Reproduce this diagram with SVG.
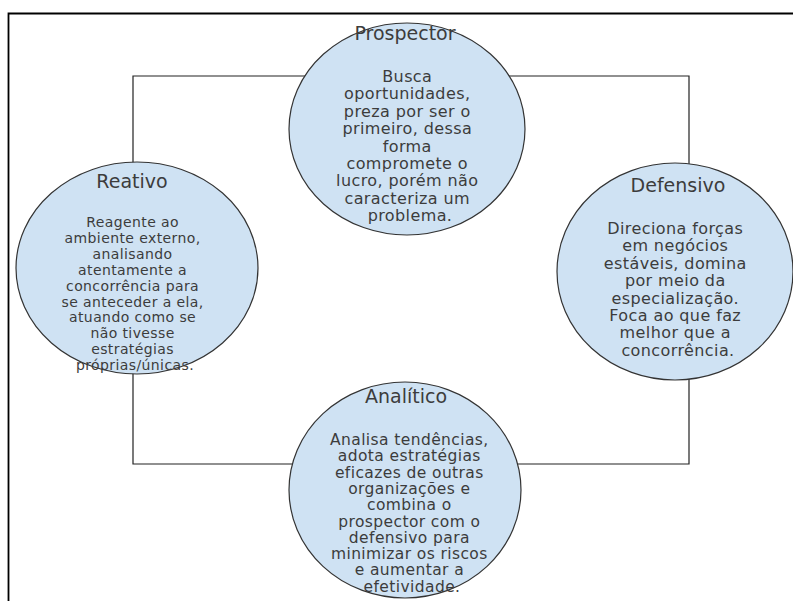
<svg xmlns="http://www.w3.org/2000/svg" width="793" height="601" viewBox="0 0 793 601">
<style>
.frame{fill:none;stroke:#000;stroke-width:1.8}
.conn{fill:none;stroke:#222;stroke-width:1.2}
.node{fill:#cfe2f3;stroke:#333;stroke-width:1.2}
text{font-family:"DejaVu Sans","Noto Sans",sans-serif;fill:#3c3c3c;text-anchor:middle}
.title{font-size:19px}
.body{letter-spacing:0.4px}
</style>
<rect width="793" height="601" fill="#fff"/>
<path class="frame" d="M8.5,601 V13.5 H793"/>
<g id="connectors">
<path class="conn" d="M310,76 H133 V165"/>
<path class="conn" d="M505,76 H689 V165"/>
<path class="conn" d="M133,372 V464 H295"/>
<path class="conn" d="M516,464 H689 V378"/>
</g>
<g id="prospector">
<ellipse class="node" cx="407" cy="129" rx="118" ry="106"/>
<text class="title" x="405" y="40">Prospector</text>
<text class="body" font-size="16" x="410">
<tspan x="410" y="82">Busca</tspan>
<tspan x="410" y="99.4">oportunidades,</tspan>
<tspan x="410" y="116.8">preza por ser o</tspan>
<tspan x="410" y="134.2">primeiro, dessa</tspan>
<tspan x="410" y="151.6">forma</tspan>
<tspan x="410" y="169">compromete o</tspan>
<tspan x="410" y="186.4">lucro, porém não</tspan>
<tspan x="410" y="203.8">caracteriza um</tspan>
<tspan x="410" y="221.2">problema.</tspan>
</text>
</g>
<g id="reativo">
<ellipse class="node" cx="137" cy="268" rx="121" ry="106"/>
<text class="title" x="132" y="188">Reativo</text>
<text class="body" font-size="14" x="135">
<tspan x="135" y="227">Reagente ao</tspan>
<tspan x="135" y="242.9">ambiente externo,</tspan>
<tspan x="135" y="258.8">analisando</tspan>
<tspan x="135" y="274.7">atentamente a</tspan>
<tspan x="135" y="290.6">concorrência para</tspan>
<tspan x="135" y="306.5">se anteceder a ela,</tspan>
<tspan x="135" y="322.4">atuando como se</tspan>
<tspan x="135" y="338.3">não tivesse</tspan>
<tspan x="135" y="354.2">estratégias</tspan>
<tspan x="135" y="370.1">próprias/únicas.</tspan>
</text>
</g>
<g id="defensivo">
<ellipse class="node" cx="675" cy="271.5" rx="118" ry="108.5"/>
<text class="title" x="678" y="192">Defensivo</text>
<text class="body" font-size="16" x="678">
<tspan x="678" y="234">Direciona forças</tspan>
<tspan x="678" y="251.4">em negócios</tspan>
<tspan x="678" y="268.8">estáveis, domina</tspan>
<tspan x="678" y="286.2">por meio da</tspan>
<tspan x="678" y="303.6">especialização.</tspan>
<tspan x="678" y="321">Foca ao que faz</tspan>
<tspan x="678" y="338.4">melhor que a</tspan>
<tspan x="678" y="355.8">concorrência.</tspan>
</text>
</g>
<g id="analitico">
<ellipse class="node" cx="405" cy="490" rx="116" ry="108"/>
<text class="title" x="406" y="403">Analítico</text>
<text class="body" font-size="15.5" x="412">
<tspan x="412" y="445">Analisa tendências,</tspan>
<tspan x="412" y="461.3">adota estratégias</tspan>
<tspan x="412" y="477.6">eficazes de outras</tspan>
<tspan x="412" y="493.9">organizações e</tspan>
<tspan x="412" y="510.2">combina o</tspan>
<tspan x="412" y="526.5">prospector com o</tspan>
<tspan x="412" y="542.8">defensivo para</tspan>
<tspan x="412" y="559.1">minimizar os riscos</tspan>
<tspan x="412" y="575.4">e aumentar a</tspan>
<tspan x="412" y="591.7">efetividade.</tspan>
</text>
</g>
</svg>
